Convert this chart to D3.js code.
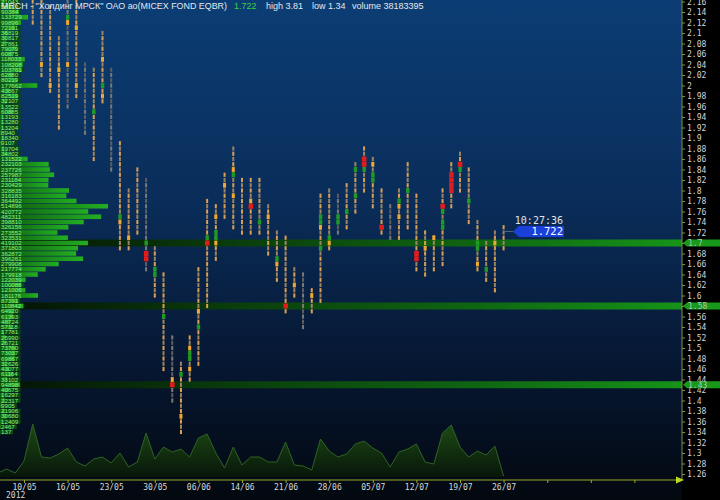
<!DOCTYPE html>
<html><head><meta charset="utf-8">
<script src="https://cdn.jsdelivr.net/npm/d3@7"></script>
<style>html,body{margin:0;padding:0;background:#000;overflow:hidden}</style>
</head><body><svg id="c" width="720" height="500"></svg>
<script>
// ---------- DATA ----------
const days = ["03/05","04/05","05/05","10/05","11/05","12/05","14/05","15/05","16/05","17/05","18/05","21/05","22/05","23/05","24/05","25/05","28/05","29/05","30/05","31/05","01/06","04/06","05/06","06/06","07/06","08/06","09/06","13/06","14/06","15/06","18/06","19/06","20/06","21/06","22/06","25/06","26/06","27/06","28/06","29/06","02/07","03/07","04/07","05/07","06/07","09/07","10/07","11/07","12/07","13/07","16/07","17/07","18/07","19/07","20/07","23/07","24/07","25/07","26/07"];
const highs = [null,null,null,null,2.20,2.20,2.15,2.09,2.17,2.16,2.04,2.03,2.10,2.03,1.89,1.80,1.84,1.82,1.69,1.64,1.52,1.47,1.52,1.65,1.78,1.77,1.83,1.88,1.82,1.82,1.82,1.77,1.72,1.71,1.65,1.64,1.61,1.79,1.80,1.79,1.81,1.85,1.88,1.86,1.80,1.77,1.80,1.85,1.79,1.72,1.71,1.80,1.85,1.87,1.84,1.74,1.70,1.72,1.73];
const lows  = [null,null,null,null,2.12,2.02,1.99,1.92,1.96,1.98,1.91,1.86,1.97,1.84,1.69,1.69,1.72,1.65,1.60,1.46,1.40,1.34,1.44,1.47,1.58,1.67,1.75,1.73,1.72,1.72,1.72,1.68,1.63,1.57,1.60,1.54,1.57,1.59,1.69,1.72,1.73,1.76,1.80,1.77,1.72,1.71,1.71,1.73,1.65,1.64,1.65,1.66,1.77,1.80,1.74,1.65,1.63,1.61,1.69];
const volumes = [80,160,80,320,1060,400,380,460,580,300,220,360,400,280,480,200,300,880,360,600,500,560,400,780,860,480,180,600,240,400,400,300,300,700,240,220,140,760,520,400,460,660,720,580,480,200,500,560,660,300,260,880,1040,600,400,520,440,620,20];
const greenMarks = [[8,2.13],[11,1.95],[12,2.00],[14,1.75],[17,1.70],[18,1.65],[18,1.64],[19,1.56],[21,1.45],[22,1.49],[22,1.48],[23,1.54],[24,1.71],[25,1.72],[25,1.71],[27,1.83],[30,1.74],[32,1.67],[37,1.75],[37,1.74],[37,1.69],[38,1.71],[39,1.75],[39,1.74],[40,1.76],[41,1.84],[41,1.79],[42,1.84],[43,1.83],[43,1.82],[46,1.78],[47,1.80],[51,1.76],[51,1.74],[51,1.73],[53,1.84],[54,1.78],[55,1.70],[55,1.69],[56,1.65]];
const redMarks = [[17,1.68],[17,1.67],[20,1.43],[24,1.70],[29,1.77],[33,1.58],[42,1.86],[42,1.85],[44,1.73],[48,1.68],[48,1.67],[51,1.77],[52,1.83],[52,1.82],[52,1.81],[52,1.80],[53,1.85]];
const orangeMarks = [[5,2.04],[6,2.00],[7,2.03],[8,2.12],[8,2.04],[9,2.11],[9,2.00],[12,2.05],[12,1.98],[14,1.74],[15,1.71],[20,1.44],[21,1.37],[22,1.50],[22,1.46],[23,1.57],[25,1.75],[25,1.70],[26,1.81],[27,1.84],[27,1.79],[29,1.78],[31,1.75],[32,1.66],[34,1.62],[36,1.60],[37,1.73],[38,1.70],[43,1.85],[46,1.77],[46,1.75],[49,1.69],[50,1.71],[55,1.66],[57,1.70]];
const profilePrices = [2.16,2.15,2.14,2.13,2.12,2.11,2.10,2.09,2.08,2.07,2.06,2.05,2.04,2.03,2.02,2.01,2.00,1.99,1.98,1.97,1.96,1.95,1.94,1.93,1.92,1.91,1.90,1.89,1.88,1.87,1.86,1.85,1.84,1.83,1.82,1.81,1.80,1.79,1.78,1.77,1.76,1.75,1.74,1.73,1.72,1.71,1.70,1.69,1.68,1.67,1.66,1.65,1.64,1.63,1.62,1.61,1.60,1.59,1.58,1.57,1.56,1.55,1.54,1.53,1.52,1.51,1.50,1.49,1.48,1.47,1.46,1.45,1.44,1.43,1.42,1.41,1.40,1.39,1.38,1.37,1.36,1.35,1.34];
const profileVolumes = [21043,58120,90384,133729,99896,72161,36819,30817,27861,79079,60875,118033,108208,103761,62880,80219,177662,43867,82519,32107,13522,60885,13193,13280,13204,8940,18340,9107,19704,34802,131522,232103,237726,257987,231184,230429,328835,316183,364492,514896,420772,482311,398810,326156,273552,323531,419102,371803,362872,396261,279908,217774,179918,122039,100088,121006,181176,87391,110842,64920,61393,48724,57118,17781,25990,26721,73760,73037,69867,32626,43077,61164,33102,94898,40675,16297,22317,9905,21906,30680,12409,2467,137];
const bandLevels = [1.70, 1.58, 1.43];
const priceTicks = [2.16,2.14,2.12,2.10,2.08,2.06,2.04,2.02,2.00,1.98,1.96,1.94,1.92,1.90,1.88,1.86,1.84,1.82,1.80,1.78,1.76,1.74,1.72,1.70,1.68,1.66,1.64,1.62,1.60,1.58,1.56,1.54,1.52,1.50,1.48,1.46,1.44,1.42,1.40,1.38,1.36,1.34,1.32,1.30,1.28,1.26];
const weekTickIdx = [3,8,13,18,23,28,33,38,43,48,53,58,63,68,73];
const grayColumns = [8,10,13,17,20,35,39,45];
const ticker = 'MRCH - "Холдинг МРСК" ОАО ао(MICEX FOND EQBR)';
const lastPrice = 1.722, lastTime = "10:27:36", sessHigh = 3.81, sessLow = 1.34, sessVolume = 38183395;

// ---------- CHART ----------
const svg = d3.select("#c");
const AX = 682, AY = 480;
const y = d3.scaleLinear().domain([2.14, 1.26]).range([12, 474]);
const x = d3.scaleLinear().domain([3, 58]).range([24, 503.6]);
const yVol = d3.scaleLinear().domain([0, 1200]).range([477, 417]);
const wProf = d3.scaleLinear().domain([0, 514896]).range([0, 108]);

const defs = svg.append("defs");
const bg = defs.append("linearGradient").attr("id","bg").attr("x1",0).attr("y1",0).attr("x2",0).attr("y2",1);
[[0,"#0b3d74"],[0.4,"#0a2d5a"],[0.75,"#061630"],[1,"#03080f"]].forEach(s=>bg.append("stop").attr("offset",s[0]).attr("stop-color",s[1]));
const bandG = defs.append("linearGradient").attr("id","band").attr("gradientUnits","userSpaceOnUse").attr("x1",0).attr("x2",AX).attr("y1",0).attr("y2",0);
[[0,"#041204"],[0.35,"#0a3e0c"],[0.7,"#0f6612"],[1,"#169418"]].forEach(s=>bandG.append("stop").attr("offset",s[0]).attr("stop-color",s[1]));
const barG = defs.append("linearGradient").attr("id","bar").attr("x1",0).attr("x2",1).attr("y1",0).attr("y2",0);
[[0,"#0c5a0c"],[1,"#23ae23"]].forEach(s=>barG.append("stop").attr("offset",s[0]).attr("stop-color",s[1]));
const volG = defs.append("linearGradient").attr("id","vol").attr("x1",0).attr("x2",0).attr("y1",0).attr("y2",1);
[[0,"#1d4a14"],[1,"#08160a"]].forEach(s=>volG.append("stop").attr("offset",s[0]).attr("stop-color",s[1]));

svg.append("rect").attr("x",0).attr("y",0).attr("width",AX).attr("height",500).attr("fill","url(#bg)");
svg.append("rect").attr("x",AX).attr("y",0).attr("width",720-AX).attr("height",500).attr("fill","#000");

// bands
svg.append("g").selectAll("rect").data(bandLevels).join("rect")
  .attr("x",0).attr("width",AX).attr("y",d=>y(d)-3.5).attr("height",7).attr("fill","url(#band)");

// volume area
const area = d3.area().x((d,i)=>x(i)).y0(yVol(0)).y1(d=>yVol(d));
svg.append("path").datum(volumes).attr("d",area).attr("fill","url(#vol)");
svg.append("path").datum(volumes).attr("d",d3.line().x((d,i)=>x(i)).y(d=>yVol(d))).attr("fill","none").attr("stroke","#2e6324").attr("stroke-width",1);

// columns
const colG = svg.append("g");
days.forEach((d,k)=>{
  if (highs[k] == null) return;
  const gray = grayColumns.includes(k);
  const lv = d3.range(Math.round(lows[k]*100), Math.round(highs[k]*100)+1).map(n=>n/100);
  colG.selectAll(null).data(lv).join("rect")
    .attr("x",x(k)-1).attr("width",2)
    .attr("y",p=>y(p)-2.1).attr("height",4.2)
    .attr("fill",(p,j)=> gray ? (j%2? "#5e5e5e":"#7c7a76") : (j%2? "#9c8462":"#dca052"));
});
colG.selectAll(".om").data(orangeMarks).join("rect").attr("class","om")
  .attr("x",d=>x(d[0])-1.5).attr("width",3).attr("y",d=>y(d[1])-2.4).attr("height",4.8).attr("fill","#f0a830");
colG.selectAll(".gm").data(greenMarks).join("rect").attr("class","gm")
  .attr("x",d=>x(d[0])-1.6).attr("width",3.4).attr("y",d=>y(d[1])-2.5).attr("height",5).attr("fill","#1f9a22");
colG.selectAll(".rm").data(redMarks).join("rect").attr("class","rm")
  .attr("x",d=>x(d[0])-2.2).attr("width",4.6).attr("y",d=>y(d[1])-2.5).attr("height",5).attr("fill","#e21b1b");

// profile
const pG = svg.append("g");
const rows = profilePrices.map((p,i)=>({p, v: profileVolumes[i]}));
pG.selectAll(".lb").data(rows).join("rect").attr("class","lb")
  .attr("x",0).attr("y",d=>y(d.p)-2.3).attr("height",4.6)
  .attr("width",d=>String(d.v).length*3.7+2).attr("fill","#0b4a0b");
pG.selectAll(".br").data(rows).join("rect").attr("class","br")
  .attr("x",0).attr("y",d=>y(d.p)-2.3).attr("height",4.6)
  .attr("width",d=>wProf(d.v)).attr("fill","url(#bar)");
pG.selectAll("text").data(rows).join("text")
  .attr("x",1).attr("y",d=>y(d.p)+2.2)
  .attr("font-family","'Liberation Sans', Arial, sans-serif").attr("font-size","6.2px")
  .attr("fill","#8ef08e").text(d=>d.v);

// title
const tG = svg.append("g").attr("font-family","'Liberation Sans', Arial, sans-serif").attr("font-size","9px");
tG.append("text").attr("x",1).attr("y",8.5).attr("fill","#e4e8ee").attr("textLength",226).attr("lengthAdjust","spacingAndGlyphs").text(ticker);
tG.append("text").attr("x",234).attr("y",8.5).attr("fill","#3fcf3f").text(lastPrice.toFixed(3));
tG.append("text").attr("x",266).attr("y",8.5).attr("fill","#e4e8ee").text("high " + sessHigh);
tG.append("text").attr("x",312).attr("y",8.5).attr("fill","#e4e8ee").text("low " + sessLow);
tG.append("text").attr("x",352).attr("y",8.5).attr("fill","#e4e8ee").text("volume " + sessVolume);

// right axis
const ya = svg.append("g").attr("transform",`translate(${AX},0)`)
  .call(d3.axisRight(y).tickValues(priceTicks).tickSize(3).tickPadding(2).tickFormat(d=>String(+d.toFixed(2))));
ya.select(".domain").remove();
ya.selectAll("line").attr("stroke","#7f9048");
ya.selectAll("text").attr("font-family","'DejaVu Sans Mono', monospace").attr("font-size","8px").attr("fill","#d4d4d4");
svg.append("line").attr("x1",AX).attr("x2",AX).attr("y1",0).attr("y2",AY).attr("stroke","#7f9048").attr("stroke-width",1);

// band labels
const bl = svg.append("g").selectAll("g").data(bandLevels).join("g");
bl.append("path").attr("d",d=>{const c=y(d);return `M${AX+1},${c} L${AX+5},${c-3.5} L720,${c-3.5} L720,${c+3.5} L${AX+5},${c+3.5} Z`;}).attr("fill","#19991b");
bl.append("text").attr("x",AX+6).attr("y",d=>y(d)+3).attr("font-family","'DejaVu Sans Mono', monospace").attr("font-size","8px").attr("fill","#a9c9a9").text(d=>String(+d.toFixed(2)));

// x axis
const xa = svg.append("g").attr("transform",`translate(0,${AY})`)
  .call(d3.axisBottom(x).tickValues(weekTickIdx).tickSize(3).tickFormat(k=>days[k]||""));
xa.select(".domain").remove();
xa.selectAll("line").attr("stroke","#98a828");
xa.selectAll("text").attr("font-family","'DejaVu Sans Mono', monospace").attr("font-size","8px").attr("fill","#d8d8d8").attr("dy","0.55em");
svg.append("line").attr("x1",0).attr("x2",AX).attr("y1",AY).attr("y2",AY).attr("stroke","#98a828").attr("stroke-width",1.2);
svg.append("path").attr("d",`M${AX-6},${AY-3.5} L${AX+2},${AY} L${AX-6},${AY+3.5} Z`).attr("fill","#bcd81c");
svg.append("text").attr("x",6).attr("y",498).attr("font-family","'DejaVu Sans Mono', monospace").attr("font-size","8px").attr("fill","#d8d8d8").text("2012");

// last price tag
const yl = y(lastPrice), xl = x(days.length-1);
svg.append("line").attr("x1",xl).attr("x2",513).attr("y1",yl).attr("y2",yl).attr("stroke","#55667a");
svg.append("path").attr("d",`M513,${yl} L519,${yl-5.5} L564,${yl-5.5} L564,${yl+5.5} L519,${yl+5.5} Z`).attr("fill","#1b3fd9");
svg.append("text").attr("x",563).attr("y",yl+4).attr("text-anchor","end").attr("font-family","'DejaVu Sans Mono', monospace").attr("font-size","10.5px").attr("fill","#ffffff").text(lastPrice.toFixed(3));
svg.append("text").attr("x",563).attr("y",yl-7).attr("text-anchor","end").attr("font-family","'DejaVu Sans Mono', monospace").attr("font-size","10px").attr("fill","#e0e4ea").text(lastTime);
</script></body></html>
